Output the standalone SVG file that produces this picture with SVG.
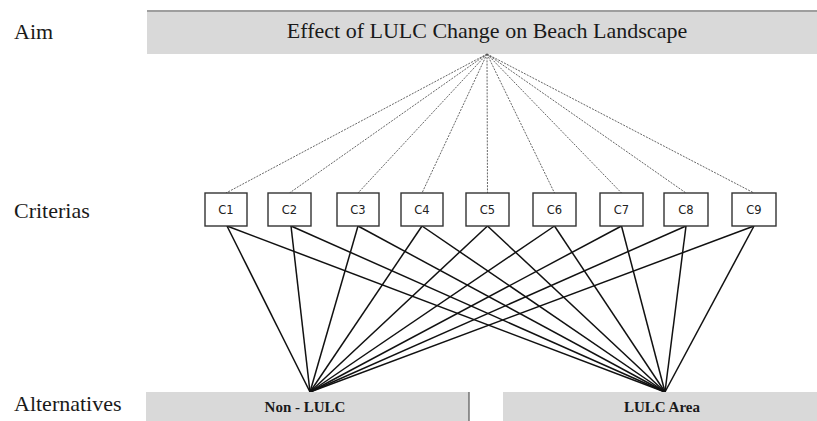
<svg xmlns="http://www.w3.org/2000/svg" width="817" height="421" viewBox="0 0 817 421">
<style>
.lbl{font-family:"Liberation Serif","Times New Roman",serif;font-size:22px;fill:#1a1a1a}
.bar{fill:#d9d9d9}
.box{fill:#ffffff;stroke:#333333;stroke-width:1.4}
.ct{font-family:"DejaVu Sans",Verdana,sans-serif;font-size:11.5px;fill:#222222;text-anchor:middle}
.dot{stroke:#555555;stroke-width:0.9;stroke-dasharray:2 1.2;fill:none}
.ln{stroke:#111111;stroke-width:1.5;fill:none}
.alt{font-family:"Liberation Serif","Times New Roman",serif;font-size:15px;font-weight:bold;fill:#1a1a1a;text-anchor:middle}
</style>
<rect width="817" height="421" fill="#ffffff"/>
<text class="lbl" x="14" y="39">Aim</text>
<text class="lbl" x="14" y="218">Criterias</text>
<text class="lbl" x="14" y="411">Alternatives</text>
<g id="aim">
<rect class="bar" x="147" y="10" width="670" height="44"/>
<line x1="147" y1="11" x2="817" y2="11" stroke="#8a8a8a" stroke-width="1.5"/>
<text x="487" y="38" font-family="'Liberation Serif','Times New Roman',serif" font-size="22" fill="#1a1a1a" text-anchor="middle">Effect of LULC Change on Beach Landscape</text>
</g>
<g id="connectors">
<g class="dot">
<line x1="487" y1="54" x2="226" y2="193"/>
<line x1="487" y1="54" x2="289.5" y2="193"/>
<line x1="487" y1="54" x2="358" y2="193"/>
<line x1="487" y1="54" x2="422" y2="193"/>
<line x1="487" y1="54" x2="487.5" y2="193"/>
<line x1="487" y1="54" x2="554.5" y2="193"/>
<line x1="487" y1="54" x2="621.5" y2="193"/>
<line x1="487" y1="54" x2="686" y2="193"/>
<line x1="487" y1="54" x2="754" y2="193"/>
</g>
<g class="ln">
<line x1="227" y1="226" x2="310" y2="392"/>
<line x1="291" y1="226" x2="310" y2="392"/>
<line x1="358" y1="226" x2="310" y2="392"/>
<line x1="422" y1="226" x2="310" y2="392"/>
<line x1="487.5" y1="226" x2="310" y2="392"/>
<line x1="554.5" y1="226" x2="310" y2="392"/>
<line x1="621.5" y1="226" x2="310" y2="392"/>
<line x1="686" y1="226" x2="310" y2="392"/>
<line x1="754" y1="226" x2="310" y2="392"/>
<line x1="227" y1="226" x2="665" y2="392"/>
<line x1="291" y1="226" x2="665" y2="392"/>
<line x1="358" y1="226" x2="665" y2="392"/>
<line x1="422" y1="226" x2="665" y2="392"/>
<line x1="487.5" y1="226" x2="665" y2="392"/>
<line x1="554.5" y1="226" x2="665" y2="392"/>
<line x1="621.5" y1="226" x2="665" y2="392"/>
<line x1="686" y1="226" x2="665" y2="392"/>
<line x1="754" y1="226" x2="665" y2="392"/>
</g>
</g>
<g id="c1"><rect class="box" x="205" y="193" width="42" height="33"/><text class="ct" x="226" y="214">C1</text></g>
<g id="c2"><rect class="box" x="268" y="193" width="43" height="33"/><text class="ct" x="289.5" y="214">C2</text></g>
<g id="c3"><rect class="box" x="337" y="193" width="42" height="33"/><text class="ct" x="358" y="214">C3</text></g>
<g id="c4"><rect class="box" x="401" y="193" width="42" height="33"/><text class="ct" x="422" y="214">C4</text></g>
<g id="c5"><rect class="box" x="466" y="193" width="43" height="33"/><text class="ct" x="487.5" y="214">C5</text></g>
<g id="c6"><rect class="box" x="533" y="193" width="43" height="33"/><text class="ct" x="554.5" y="214">C6</text></g>
<g id="c7"><rect class="box" x="600" y="193" width="43" height="33"/><text class="ct" x="621.5" y="214">C7</text></g>
<g id="c8"><rect class="box" x="664" y="193" width="44" height="33"/><text class="ct" x="686" y="214">C8</text></g>
<g id="c9"><rect class="box" x="732" y="193" width="44" height="33"/><text class="ct" x="754" y="214">C9</text></g>
<g id="non-lulc">
<rect class="bar" x="146" y="392" width="323" height="29"/>
<line x1="469" y1="392" x2="469" y2="421" stroke="#555555" stroke-width="1.2"/>
<text class="alt" x="305" y="412">Non - LULC</text>
</g>
<g id="lulc-area">
<rect class="bar" x="503" y="392" width="314" height="29"/>
<text class="alt" x="662" y="412">LULC Area</text>
</g>
</svg>
